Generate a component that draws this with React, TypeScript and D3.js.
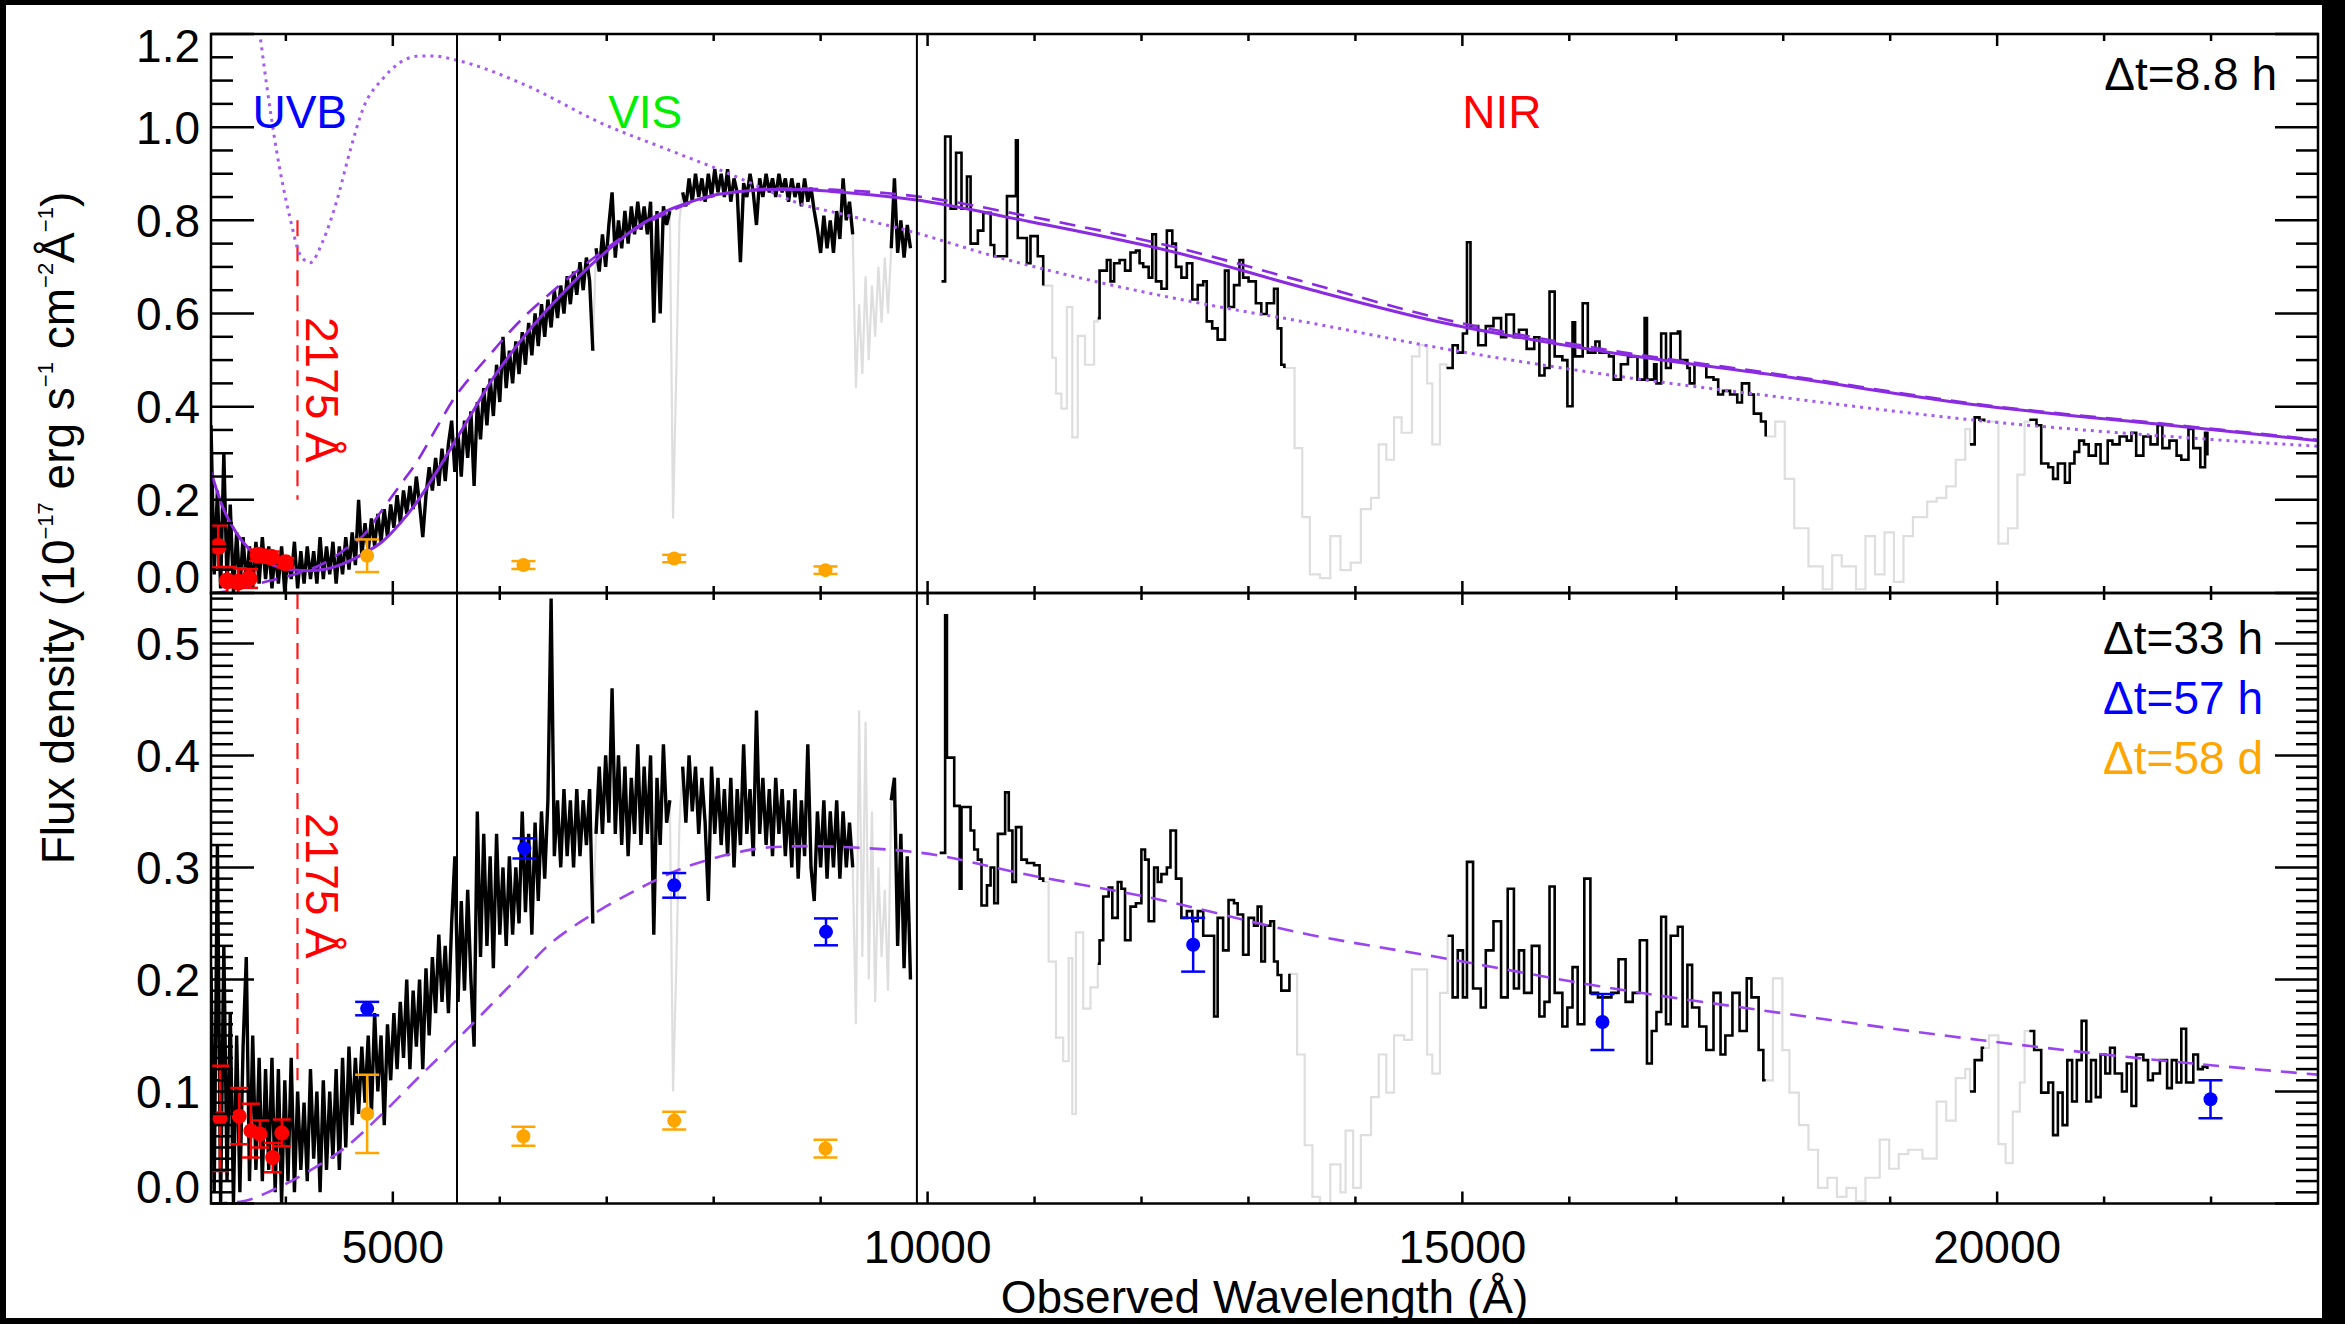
import React from "react";
import * as d3 from "d3";

// ---- frame geometry (px) ----
const WIDTH = 2345;
const HEIGHT = 1324;
const FRAME_LEFT = 211;
const FRAME_RIGHT = 2318;
const FRAME_TOP = 34;
const FRAME_MID = 593;
const FRAME_BOTTOM = 1203.5;
const FONT = "'Liberation Sans', Arial, Helvetica, sans-serif";

// ---- axes ----
const WAVE_RANGE = [3300, 23000];
const FLUX_RANGE_EARLY = [0, 1.2];
const FLUX_RANGE_LATE = [0, 0.545];
const WAVE_MAJOR_TICKS = [5000, 10000, 15000, 20000];
const WAVE_MINOR_TICKS = [4000, 6000, 7000, 8000, 9000, 11000, 12000, 13000, 14000, 16000, 17000, 18000, 19000, 21000, 22000];
const EARLY_MAJOR_TICKS = [0, 0.2, 0.4, 0.6, 0.8, 1.0, 1.2];
const EARLY_MINOR_TICKS = [0.05, 0.1, 0.15, 0.25, 0.3, 0.35, 0.45, 0.5, 0.55, 0.65, 0.7, 0.75, 0.85, 0.9, 0.95, 1.05, 1.1, 1.15];
const LATE_MAJOR_TICKS = [0, 0.1, 0.2, 0.3, 0.4, 0.5];
const LATE_MINOR_TICKS = d3.range(1, 55).filter((k) => k % 10 !== 0).map((k) => k / 100);

// X-shooter arm boundaries and the redshifted 2175 Å bump
const ARM_EDGES = [5600, 9900];
const REST_BUMP = 2175;
const REDSHIFT = 0.889;

// ---- UVB + VIS spectra on a regular grid ----
const UVBVIS_START = 3300;
const UVBVIS_STEP = 30;

// Δt = 8.8 h
const UVBVIS_EARLY = [
  0.36, 0.04, 0.22, 0.01, 0.30, 0.02, 0.19, 0.00, 0.13, 0.01,
  0.12, 0.02, 0.10, 0.01, 0.11, 0.02, 0.12, 0.03, 0.10, 0.01,
  0.09, 0.02, 0.10, 0.00, 0.08, 0.03, 0.11, 0.01, 0.09, 0.02,
  0.10, 0.03, 0.09, 0.02, 0.12, 0.03, 0.10, 0.04, 0.11, 0.02,
  0.10, 0.04, 0.12, 0.05, 0.13, 0.06, 0.20, 0.08, 0.15, 0.09,
  0.16, 0.10, 0.17, 0.11, 0.18, 0.12, 0.19, 0.14, 0.21, 0.15,
  0.22, 0.17, 0.23, 0.18, 0.25, 0.19, 0.12, 0.21, 0.27, 0.22,
  0.29, 0.23, 0.31, 0.24, 0.32, 0.37, 0.26, 0.34, 0.25, 0.37,
  0.29, 0.39, 0.23, 0.41, 0.33, 0.44, 0.36, 0.46, 0.38, 0.49,
  0.41, 0.55, 0.44, 0.52, 0.45, 0.54, 0.47, 0.56, 0.49, 0.58,
  0.51, 0.60, 0.53, 0.62, 0.55, 0.63, 0.57, 0.65, 0.59, 0.66,
  0.60, 0.68, 0.62, 0.69, 0.64, 0.71, 0.65, 0.72, 0.67, 0.52,
  0.74, 0.69, 0.77, 0.70, 0.79, 0.86, 0.72, 0.80, 0.74, 0.82,
  0.75, 0.83, 0.77, 0.84, 0.78, 0.83, 0.77, 0.84, 0.58, 0.82,
  0.60, 0.83, 0.79, 0.82, 0.16, 0.47, 0.80, 0.86, 0.83, 0.89,
  0.84, 0.90, 0.85, 0.89, 0.84, 0.90, 0.85, 0.91, 0.86, 0.90,
  0.85, 0.91, 0.84, 0.89, 0.86, 0.71, 0.88, 0.85, 0.90, 0.86,
  0.79, 0.89, 0.85, 0.90, 0.86, 0.89, 0.85, 0.90, 0.86, 0.89,
  0.84, 0.89, 0.85, 0.88, 0.83, 0.89, 0.84, 0.87, 0.82, 0.78,
  0.73, 0.81, 0.74, 0.80, 0.73, 0.82, 0.76, 0.89, 0.80, 0.84,
  0.77, 0.44, 0.62, 0.47, 0.68, 0.50, 0.66, 0.55, 0.70, 0.58,
  0.72, 0.60, 0.74, 0.89, 0.73, 0.80, 0.72, 0.79, 0.74,
];

// Δt = 33 h
const UVBVIS_LATE = [
  0.21, 0.01, 0.32, 0.00, 0.23, 0.02, 0.17, 0.00, 0.15, 0.01,
  0.14, 0.22, 0.02, 0.15, 0.03, 0.13, 0.02, 0.12, 0.03, 0.13,
  0.01, 0.12, 0.00, 0.11, 0.02, 0.13, 0.01, 0.10, 0.03, 0.09,
  0.02, 0.12, 0.04, 0.10, 0.01, 0.11, 0.03, 0.10, 0.04, 0.12,
  0.03, 0.13, 0.05, 0.14, 0.07, 0.13, 0.08, 0.14, 0.09, 0.15,
  0.08, 0.17, 0.10, 0.15, 0.07, 0.16, 0.11, 0.17, 0.12, 0.18,
  0.13, 0.20, 0.12, 0.19, 0.14, 0.20, 0.12, 0.21, 0.15, 0.22,
  0.17, 0.24, 0.18, 0.23, 0.17, 0.25, 0.31, 0.18, 0.27, 0.19,
  0.28, 0.20, 0.14, 0.35, 0.22, 0.33, 0.23, 0.31, 0.21, 0.33,
  0.24, 0.30, 0.23, 0.31, 0.24, 0.30, 0.25, 0.35, 0.26, 0.33,
  0.24, 0.34, 0.27, 0.35, 0.29, 0.36, 0.54, 0.31, 0.36, 0.30,
  0.37, 0.31, 0.36, 0.30, 0.37, 0.31, 0.36, 0.32, 0.37, 0.25,
  0.33, 0.39, 0.33, 0.40, 0.34, 0.46, 0.33, 0.40, 0.32, 0.39,
  0.31, 0.38, 0.33, 0.41, 0.32, 0.39, 0.33, 0.40, 0.24, 0.38,
  0.32, 0.41, 0.34, 0.36, 0.10, 0.21, 0.34, 0.39, 0.34, 0.40,
  0.35, 0.39, 0.33, 0.38, 0.34, 0.27, 0.39, 0.33, 0.38, 0.32,
  0.37, 0.31, 0.38, 0.30, 0.37, 0.32, 0.41, 0.33, 0.37, 0.31,
  0.44, 0.33, 0.38, 0.32, 0.37, 0.31, 0.38, 0.33, 0.37, 0.31,
  0.36, 0.30, 0.37, 0.29, 0.36, 0.31, 0.41, 0.30, 0.27, 0.35,
  0.30, 0.36, 0.29, 0.35, 0.30, 0.36, 0.29, 0.35, 0.30, 0.34,
  0.30, 0.16, 0.44, 0.22, 0.43, 0.20, 0.35, 0.18, 0.30, 0.22,
  0.28, 0.19, 0.36, 0.38, 0.23, 0.33, 0.21, 0.31, 0.20,
];

// ---- NIR binned spectra ----
const NIR_EARLY_WAVE = [
  10130, 10164, 10215, 10266, 10317, 10368, 10402, 10470, 10521, 10589, 10623, 10742, 10826, 10843, 10928, 10962, 11030,
  11081, 11115, 11166, 11200, 11251, 11302, 11353, 11404, 11472, 11557,
  11591, 11608, 11676, 11710, 11744, 11795, 11846, 11897, 11948, 11982, 12016, 12067, 12101, 12135, 12186, 12237, 12288,
  12322, 12373, 12424, 12475, 12526, 12577, 12610, 12661, 12712, 12746, 12780, 12814, 12865, 12916, 12950, 13001, 13069,
  13120, 13171, 13239, 13273, 13307,
  13336, 13431, 13503, 13574, 13669, 13765, 13860, 13956, 14051, 14146, 14218, 14289, 14361, 14432, 14528, 14599, 14671,
  14719, 14790,
  14852, 14909, 14957, 15005, 15043, 15076, 15148, 15219, 15291, 15362, 15410, 15482, 15529, 15601, 15672, 15720, 15768,
  15815, 15863, 15935, 15982, 16030, 16054, 16125, 16173, 16244, 16282, 16371, 16415, 16482, 16548, 16637, 16704, 16726,
  16793, 16815, 16859, 16904, 16948, 17015, 17037, 17104, 17126, 17170, 17237, 17281, 17348, 17392, 17437, 17503, 17570,
  17614, 17681, 17725, 17792,
  17836, 17925, 18014, 18103, 18236, 18369, 18458, 18547, 18680, 18769, 18858, 18947, 19035, 19124, 19213, 19346, 19435,
  19524, 19613, 19702,
  19746, 19790, 19835,
  19879, 19968, 20012, 20101, 20190, 20257,
  20301, 20368, 20412, 20479, 20523, 20568, 20634, 20679, 20723, 20767, 20812, 20856, 20923, 20967, 21034, 21078, 21145,
  21212, 21256, 21300, 21367, 21434, 21500, 21545, 21611, 21678, 21722, 21789, 21834, 21900, 21944, 21966,
];
const NIR_EARLY_FLUX = [
  0.669, 0.98, 0.825, 0.945, 0.825, 0.894, 0.75, 0.778, 0.816, 0.747, 0.723, 0.852, 0.972, 0.762, 0.708, 0.766, 0.723,
  0.66, 0.66, 0.505, 0.428, 0.396, 0.614, 0.334, 0.552, 0.49, 0.583,
  0.59, 0.692, 0.715, 0.669, 0.708, 0.715, 0.692, 0.731, 0.735, 0.708, 0.70, 0.677, 0.77, 0.669, 0.653, 0.778, 0.75,
  0.70, 0.677, 0.708, 0.63, 0.661, 0.669, 0.583, 0.568, 0.544, 0.544, 0.692, 0.614, 0.661, 0.715, 0.677, 0.669, 0.622,
  0.599, 0.622, 0.653, 0.568, 0.49,
  0.483, 0.311, 0.163, 0.04, 0.032, 0.122, 0.049, 0.065, 0.18, 0.204, 0.319, 0.286, 0.377, 0.344, 0.508, 0.532, 0.45,
  0.319, 0.491,
  0.483, 0.532, 0.516, 0.557, 0.753, 0.573, 0.532, 0.573, 0.59, 0.549, 0.598, 0.549, 0.565, 0.524, 0.549, 0.467, 0.483,
  0.647, 0.508, 0.50, 0.401, 0.581, 0.508, 0.622, 0.516, 0.54, 0.516, 0.508, 0.458, 0.491, 0.508, 0.458, 0.59, 0.458,
  0.491, 0.45, 0.557, 0.483, 0.557, 0.561, 0.50, 0.483, 0.45, 0.491, 0.491, 0.463, 0.458, 0.426, 0.434, 0.426, 0.409,
  0.45, 0.426, 0.385, 0.368,
  0.336, 0.368, 0.245, 0.139, 0.057, 0.008, 0.081, 0.057, 0.008, 0.122, 0.04, 0.13, 0.024, 0.122, 0.163, 0.196, 0.204,
  0.229, 0.286, 0.352,
  0.319, 0.377, 0.372,
  0.368, 0.368, 0.106, 0.139, 0.254, 0.368,
  0.372, 0.36, 0.278, 0.27, 0.245, 0.278, 0.237, 0.278, 0.303, 0.327, 0.319, 0.295, 0.319, 0.278, 0.327, 0.319, 0.336,
  0.327, 0.344, 0.295, 0.336, 0.319, 0.36, 0.311, 0.327, 0.295, 0.286, 0.352, 0.311, 0.27, 0.344, 0.295,
];

const NIR_LATE_WAVE = [
  10113, 10147, 10164, 10181, 10249, 10300, 10317, 10402, 10436, 10470, 10504, 10555, 10589, 10623, 10657, 10725, 10759,
  10793, 10826, 10877, 10928, 10996, 11047,
  11081, 11132, 11200, 11268, 11319, 11353, 11387, 11455, 11523,
  11591, 11608, 11642, 11693, 11727, 11778, 11812, 11846, 11897, 11948, 11999, 12033, 12067, 12118, 12152, 12186, 12237,
  12271, 12322, 12373, 12424, 12475, 12526, 12577, 12628, 12679, 12712, 12763, 12814, 12865, 12899, 12950, 13001, 13052,
  13086, 13120, 13154, 13205, 13239, 13273, 13307,
  13383, 13455, 13526, 13598, 13669, 13765, 13860, 13908, 13979, 14051, 14146, 14218, 14289, 14361, 14456, 14528, 14599,
  14671, 14719, 14790,
  14862, 14909, 14957, 15005, 15043, 15100, 15172, 15219, 15291, 15362, 15424, 15482, 15529, 15577, 15649, 15720, 15768,
  15815, 15863, 15935, 15982, 16030, 16078, 16140, 16197, 16268, 16349, 16393, 16460, 16526, 16593, 16659, 16726, 16771,
  16815, 16859, 16904, 16948, 17015, 17059, 17104, 17148, 17215, 17281, 17348, 17414, 17459, 17525, 17592, 17659, 17703,
  17770, 17814,
  17836, 17903, 17992, 18058, 18147, 18236, 18325, 18414, 18502, 18591, 18680, 18769, 18902, 18991, 19080, 19169, 19302,
  19435, 19524, 19613, 19702,
  19746, 19790, 19857,
  19879, 19924, 20012, 20079, 20146, 20212, 20257,
  20301, 20346, 20412, 20479, 20523, 20568, 20612, 20656, 20701, 20745, 20790, 20834, 20878, 20923, 20967, 21012, 21056,
  21100, 21167, 21212, 21256, 21300, 21367, 21411, 21456, 21522, 21589, 21633, 21678, 21722, 21767, 21834, 21878, 21922,
  21966,
];
const NIR_LATE_FLUX = [
  0.313, 0.313, 0.525, 0.398, 0.355, 0.281, 0.354, 0.333, 0.316, 0.307, 0.266, 0.284, 0.30, 0.268, 0.33, 0.367, 0.333,
  0.287, 0.336, 0.307, 0.304, 0.302, 0.29,
  0.287, 0.216, 0.148, 0.127, 0.219, 0.08, 0.242, 0.174, 0.193,
  0.214, 0.235, 0.274, 0.282, 0.255, 0.287, 0.281, 0.235, 0.265, 0.268, 0.316, 0.307, 0.252, 0.30, 0.287, 0.294, 0.30,
  0.333, 0.29, 0.255, 0.261, 0.252, 0.261, 0.239, 0.239, 0.167, 0.255, 0.226, 0.271, 0.268, 0.258, 0.222, 0.255, 0.248,
  0.265, 0.216, 0.248, 0.252, 0.216, 0.204, 0.19,
  0.205, 0.133, 0.052, 0.006, 0.0, 0.035, 0.01, 0.065, 0.014, 0.061, 0.095, 0.133, 0.099, 0.15, 0.146, 0.209, 0.209,
  0.133, 0.116, 0.188,
  0.239, 0.184, 0.226, 0.184, 0.305, 0.192, 0.175, 0.226, 0.252, 0.184, 0.281, 0.192, 0.226, 0.188, 0.23, 0.167, 0.18,
  0.283, 0.188, 0.158, 0.175, 0.211, 0.16, 0.29, 0.188, 0.184, 0.184, 0.188, 0.218, 0.18, 0.188, 0.235, 0.125, 0.154,
  0.171, 0.256, 0.16, 0.239, 0.247, 0.158, 0.213, 0.175, 0.158, 0.137, 0.188, 0.133, 0.15, 0.188, 0.154, 0.201, 0.184,
  0.137, 0.11,
  0.11, 0.201, 0.137, 0.099, 0.07, 0.048, 0.014, 0.023, 0.006, 0.014, 0.002, 0.023, 0.057, 0.031, 0.044, 0.048, 0.04,
  0.091, 0.074, 0.112, 0.12,
  0.10, 0.128, 0.139,
  0.139, 0.15, 0.053, 0.036, 0.082, 0.108, 0.154,
  0.154, 0.137, 0.099, 0.108, 0.061, 0.099, 0.07, 0.128, 0.091, 0.128, 0.163, 0.091, 0.128, 0.095, 0.133, 0.116, 0.139,
  0.116, 0.10, 0.125, 0.087, 0.133, 0.128, 0.11, 0.116, 0.128, 0.103, 0.128, 0.108, 0.156, 0.108, 0.133, 0.12, 0.122,
  0.12,
];

// Telluric absorption windows, plotted in light grey
const TELLURIC_WINDOWS = [
  [6855, 6885], [7585, 7685], [9295, 9640],
  [11075, 11580], [13320, 14845], [17830, 19740], [19875, 20295],
];

// ---- model SEDs ----
const MODEL_EARLY_WAVE = [
  3300, 3400, 3540, 3700, 3880, 4050, 4220, 4390, 4560, 4730, 4900, 5070, 5240, 5410, 5580, 5750, 5920, 6090, 6260, 6430,
  6600, 6770, 6940, 7110, 7280, 7450, 7620, 7790, 7960, 8300, 8530, 8800, 9100, 9880, 10960, 12320, 13570, 14820, 16280,
  18060, 19830, 21610, 23000,
];
const MODEL_EARLY_SOLID = [
  0.26, 0.19, 0.128, 0.085, 0.06, 0.05, 0.048, 0.052, 0.065, 0.085, 0.11, 0.15, 0.20, 0.26, 0.325, 0.39, 0.455, 0.51,
  0.56, 0.605, 0.646, 0.686, 0.722, 0.755, 0.785, 0.808, 0.826, 0.84, 0.852, 0.863, 0.866, 0.866, 0.862, 0.844, 0.797,
  0.731, 0.652, 0.58, 0.52, 0.463, 0.403, 0.36, 0.327,
];
const MODEL_EARLY_DASHED = [
  0.0, 0.002, 0.008, 0.018, 0.028, 0.038, 0.05, 0.068, 0.095, 0.125, 0.178, 0.232, 0.287, 0.355, 0.42, 0.47, 0.515, 0.56,
  0.60, 0.635, 0.668, 0.70, 0.73, 0.758, 0.782, 0.803, 0.822, 0.838, 0.85, 0.864, 0.868, 0.868, 0.866, 0.852, 0.808,
  0.742, 0.665, 0.588, 0.525, 0.466, 0.405, 0.362, 0.329,
];
const MODEL_EARLY_DOTTED_WAVE = [
  3700, 3758, 3820, 3914, 4038, 4132, 4225, 4347, 4475, 4599, 4724, 4910, 5223, 5371, 5609, 6253, 6936, 7614, 8124, 8526,
  8754, 9263, 9875, 10623, 11642, 12662, 13572, 14815, 16282, 18058, 19834, 21610, 23000,
];
const MODEL_EARLY_DOTTED = [
  1.29, 1.197, 1.091, 0.948, 0.806, 0.727, 0.709, 0.756, 0.841, 0.948, 1.041, 1.105, 1.152, 1.153, 1.143, 1.089, 1.01,
  0.948, 0.902, 0.862, 0.84, 0.81, 0.774, 0.723, 0.665, 0.617, 0.58, 0.525, 0.471, 0.418, 0.37, 0.336, 0.315,
];
const MODEL_LATE_WAVE = [
  3300, 3600, 3877, 4200, 4556, 4900, 5235, 5576, 5915, 6200, 6425, 6700, 6936, 7200, 7445, 7700, 7954, 8250, 8526, 8900,
  9263, 9943, 10962, 11982, 13572, 14768, 16282, 18058, 19834, 21610, 23000,
];
const MODEL_LATE_DASHED = [
  0.0, 0.002, 0.012, 0.028, 0.05, 0.08, 0.112, 0.144, 0.177, 0.205, 0.228, 0.248, 0.262, 0.276, 0.288, 0.299, 0.307,
  0.314, 0.318, 0.319, 0.318, 0.313, 0.293, 0.275, 0.24, 0.22, 0.194, 0.169, 0.146, 0.127, 0.115,
];

// ---- photometry ----
const UV_EARLY_WAVE = [3367, 3452, 3554, 3656, 3741, 3860, 3996];
const UV_EARLY_FLUX = [0.100, 0.026, 0.023, 0.031, 0.081, 0.077, 0.065];
const UV_EARLY_ERR = [0.045, 0.030, 0.030, 0.020, 0.012, 0.012, 0.010];
const UV_LATE_WAVE = [3384, 3564, 3673, 3758, 3877, 3962];
const UV_LATE_FLUX = [0.076, 0.078, 0.065, 0.062, 0.041, 0.063];
const UV_LATE_ERR = [0.047, 0.025, 0.024, 0.012, 0.013, 0.012];
const PHOT_57H_WAVE = [4760, 6230, 7631, 9050, 12483, 16310, 21995];
const PHOT_57H_FLUX = [0.174, 0.317, 0.284, 0.2425, 0.231, 0.162, 0.093];
const PHOT_57H_ERR = [0.006, 0.009, 0.011, 0.012, 0.024, 0.025, 0.017];
const PHOT_58D_WAVE = [4760, 6221, 7631, 9045];
const PHOT_58D_FLUX = [0.080, 0.060, 0.074, 0.049];
const PHOT_58D_ERR = [0.035, 0.0085, 0.008, 0.008];

const ARM_LABELS = [
  { text: "UVB", wave: 4130, color: "#0000ff" },
  { text: "VIS", wave: 7360, color: "#00ee00" },
  { text: "NIR", wave: 15370, color: "#ff0000" },
];

const PURPLE = "#8a2be2";

type Pt = [number, number];
type Scale = d3.ScaleLinear<number, number>;

const x = d3.scaleLinear().domain(WAVE_RANGE).range([FRAME_LEFT, FRAME_RIGHT]);
const yEarly = d3.scaleLinear().domain(FLUX_RANGE_EARLY).range([FRAME_MID, FRAME_TOP]);
const yLate = d3.scaleLinear().domain(FLUX_RANGE_LATE).range([FRAME_BOTTOM, FRAME_MID]);
const UVBVIS_WAVE = UVBVIS_EARLY.map((_, i) => UVBVIS_START + i * UVBVIS_STEP);

const inTelluric = (w: number) => TELLURIC_WINDOWS.some(([a, b]) => w >= a && w <= b);

function splitRuns(waves: number[], flux: number[]) {
  const runs: { grey: boolean; pts: Pt[] }[] = [];
  let cur: { grey: boolean; pts: Pt[] } | null = null;
  waves.forEach((w, i) => {
    const grey = inTelluric(w);
    const p: Pt = [w, flux[i]];
    if (!cur || cur.grey !== grey) {
      if (cur) cur.pts.push(p);
      cur = { grey, pts: [] };
      runs.push(cur);
    }
    cur.pts.push(p);
  });
  return runs;
}

function Spectrum({ waves, flux, y, curve, width }: { waves: number[]; flux: number[]; y: Scale; curve: d3.CurveFactory; width: number }) {
  const runs = splitRuns(waves, flux);
  const line = d3.line<Pt>().x((d) => x(d[0])).y((d) => y(d[1])).curve(curve);
  return (
    <g fill="none" strokeLinejoin="miter" strokeMiterlimit={3}>
      {runs.filter((r) => r.grey).map((r, i) => (
        <path key={"g" + i} d={line(r.pts) || ""} stroke="#dedede" strokeWidth={Math.min(width, 2.2)} />
      ))}
      {runs.filter((r) => !r.grey).map((r, i) => (
        <path key={"b" + i} d={line(r.pts) || ""} stroke="#000" strokeWidth={width} />
      ))}
    </g>
  );
}

function Model({ waves, flux, y, dash, width, color }: { waves: number[]; flux: number[]; y: Scale; dash?: string; width: number; color: string }) {
  const line = d3.line<number>().x((_, i) => x(waves[i])).y((d) => y(d)).curve(d3.curveMonotoneX);
  return <path d={line(flux) || ""} fill="none" stroke={color} strokeWidth={width} strokeDasharray={dash} />;
}

function Points({ waves, flux, err, y, color, r, cap }: { waves: number[]; flux: number[]; err: number[]; y: Scale; color: string; r: number; cap: number }) {
  return (
    <g stroke={color} strokeWidth={2.5} fill={color}>
      {waves.map((w, i) => {
        const cx = x(w);
        const y1 = y(flux[i] + err[i]);
        const y2 = y(flux[i] - err[i]);
        return (
          <g key={i}>
            <line x1={cx} x2={cx} y1={y1} y2={y2} />
            <line x1={cx - cap} x2={cx + cap} y1={y1} y2={y1} />
            <line x1={cx - cap} x2={cx + cap} y1={y2} y2={y2} />
            <circle cx={cx} cy={y(flux[i])} r={r} stroke="none" />
          </g>
        );
      })}
    </g>
  );
}

function FluxAxis({ y, majors, minors, top, bottom }: { y: Scale; majors: number[]; minors: number[]; top: number; bottom: number }) {
  const fmt = d3.format(".1f");
  return (
    <g stroke="#000" strokeWidth={2.5}>
      {minors.map((v) => (
        <g key={"m" + v}>
          <line x1={FRAME_LEFT} x2={FRAME_LEFT + 22} y1={y(v)} y2={y(v)} />
          <line x1={FRAME_RIGHT} x2={FRAME_RIGHT - 22} y1={y(v)} y2={y(v)} />
        </g>
      ))}
      {majors.map((v) => {
        const ly = Math.min(bottom - 17, Math.max(top + 11, y(v)));
        return (
          <g key={"M" + v}>
            <line x1={FRAME_LEFT} x2={FRAME_LEFT + 43} y1={y(v)} y2={y(v)} />
            <line x1={FRAME_RIGHT} x2={FRAME_RIGHT - 43} y1={y(v)} y2={y(v)} />
            <text x={200} y={ly} dy="0.36em" textAnchor="end" stroke="none" fill="#000" fontSize={46}>
              {fmt(v)}
            </text>
          </g>
        );
      })}
    </g>
  );
}

function WaveTicks() {
  const rows: { y: number; dir: number }[] = [
    { y: FRAME_TOP, dir: 1 },
    { y: FRAME_MID, dir: -1 },
    { y: FRAME_MID, dir: 1 },
    { y: FRAME_BOTTOM, dir: -1 },
  ];
  return (
    <g stroke="#000" strokeWidth={2.5}>
      {rows.map((row, k) => (
        <g key={k}>
          {WAVE_MINOR_TICKS.map((w) => (
            <line key={"m" + w} x1={x(w)} x2={x(w)} y1={row.y} y2={row.y + row.dir * 7} />
          ))}
          {WAVE_MAJOR_TICKS.map((w) => (
            <line key={"M" + w} x1={x(w)} x2={x(w)} y1={row.y} y2={row.y + row.dir * 12} />
          ))}
        </g>
      ))}
    </g>
  );
}

export default function App() {
  const bump = REST_BUMP * (1 + REDSHIFT);
  const bumpX = x(bump);
  return (
    <svg
      width={WIDTH}
      height={HEIGHT}
      viewBox={`0 0 ${WIDTH} ${HEIGHT}`}
      style={{ position: "absolute", left: 0, top: 0, background: "#fff" }}
      fontFamily={FONT}
    >
      <defs>
        <clipPath id="clip-early">
          <rect x={FRAME_LEFT} y={FRAME_TOP} width={FRAME_RIGHT - FRAME_LEFT} height={FRAME_MID - FRAME_TOP} />
        </clipPath>
        <clipPath id="clip-late">
          <rect x={FRAME_LEFT} y={FRAME_MID} width={FRAME_RIGHT - FRAME_LEFT} height={FRAME_BOTTOM - FRAME_MID} />
        </clipPath>
      </defs>
      <rect x={0} y={0} width={WIDTH} height={HEIGHT} fill="#fff" />

      {/* early epoch (8.8 h) */}
      <g clipPath="url(#clip-early)">
        <Spectrum waves={UVBVIS_WAVE} flux={UVBVIS_EARLY} y={yEarly} curve={d3.curveLinear} width={3.4} />
        <Spectrum waves={NIR_EARLY_WAVE} flux={NIR_EARLY_FLUX} y={yEarly} curve={d3.curveStepAfter} width={2.6} />
        <line x1={bumpX} x2={bumpX} y1={yEarly(0.8)} y2={yEarly(0.2)} stroke="#ff1a1a" strokeWidth={2.2} strokeDasharray="16,9" />
        <Model waves={MODEL_EARLY_DOTTED_WAVE} flux={MODEL_EARLY_DOTTED} y={yEarly} dash="3,5" width={3} color="#a45cf0" />
        <Model waves={MODEL_EARLY_WAVE} flux={MODEL_EARLY_DASHED} y={yEarly} dash="16,10" width={2.6} color={PURPLE} />
        <Model waves={MODEL_EARLY_WAVE} flux={MODEL_EARLY_SOLID} y={yEarly} width={3} color={PURPLE} />
        <Points waves={PHOT_58D_WAVE} flux={PHOT_58D_FLUX} err={PHOT_58D_ERR} y={yEarly} color="#ffa500" r={7} cap={12} />
        <Points waves={UV_EARLY_WAVE} flux={UV_EARLY_FLUX} err={UV_EARLY_ERR} y={yEarly} color="#ff0000" r={8.5} cap={9} />
      </g>

      {/* late epochs (33 h, 57 h, 58 d) */}
      <g clipPath="url(#clip-late)">
        <Spectrum waves={UVBVIS_WAVE} flux={UVBVIS_LATE} y={yLate} curve={d3.curveLinear} width={3.4} />
        <Spectrum waves={NIR_LATE_WAVE} flux={NIR_LATE_FLUX} y={yLate} curve={d3.curveStepAfter} width={2.6} />
        <line x1={bumpX} x2={bumpX} y1={FRAME_MID} y2={yLate(0.11)} stroke="#ff1a1a" strokeWidth={2.2} strokeDasharray="16,9" />
        <Model waves={MODEL_LATE_WAVE} flux={MODEL_LATE_DASHED} y={yLate} dash="16,10" width={2.6} color="#9b45f0" />
        <Points waves={PHOT_58D_WAVE} flux={PHOT_58D_FLUX} err={PHOT_58D_ERR} y={yLate} color="#ffa500" r={7} cap={12} />
        <Points waves={PHOT_57H_WAVE} flux={PHOT_57H_FLUX} err={PHOT_57H_ERR} y={yLate} color="#0000ff" r={7} cap={12} />
        <Points waves={UV_LATE_WAVE} flux={UV_LATE_FLUX} err={UV_LATE_ERR} y={yLate} color="#ff0000" r={7.5} cap={9} />
      </g>

      {/* arm boundaries */}
      {ARM_EDGES.map((w) => (
        <line key={w} x1={x(w)} x2={x(w)} y1={FRAME_TOP} y2={FRAME_BOTTOM} stroke="#000" strokeWidth={2} />
      ))}

      {/* frames and ticks */}
      <rect x={FRAME_LEFT} y={FRAME_TOP} width={FRAME_RIGHT - FRAME_LEFT} height={FRAME_MID - FRAME_TOP} fill="none" stroke="#000" strokeWidth={2.5} />
      <rect x={FRAME_LEFT} y={FRAME_MID} width={FRAME_RIGHT - FRAME_LEFT} height={FRAME_BOTTOM - FRAME_MID} fill="none" stroke="#000" strokeWidth={2.5} />
      <FluxAxis y={yEarly} majors={EARLY_MAJOR_TICKS} minors={EARLY_MINOR_TICKS} top={FRAME_TOP} bottom={FRAME_MID} />
      <FluxAxis y={yLate} majors={LATE_MAJOR_TICKS} minors={LATE_MINOR_TICKS} top={FRAME_MID} bottom={FRAME_BOTTOM} />
      <WaveTicks />

      {WAVE_MAJOR_TICKS.map((w) => (
        <text key={w} x={x(w)} y={1263} textAnchor="middle" fontSize={46}>
          {w}
        </text>
      ))}
      <text x={(FRAME_LEFT + FRAME_RIGHT) / 2} y={1313} textAnchor="middle" fontSize={46}>
        Observed Wavelength (Å)
      </text>

      <text transform="translate(74,528) rotate(-90)" textAnchor="middle" fontSize={46}>
        Flux density (10<tspan dy={-21} fontSize={22}>−17</tspan>
        <tspan dy={21}> erg s</tspan>
        <tspan dy={-21} fontSize={22}>−1</tspan>
        <tspan dy={21}> cm</tspan>
        <tspan dy={-21} fontSize={22}>−2</tspan>
        <tspan dy={21}>Å</tspan>
        <tspan dy={-21} fontSize={22}>−1</tspan>
        <tspan dy={21}>)</tspan>
      </text>

      {/* arm names */}
      {ARM_LABELS.map((a) => (
        <text key={a.text} x={x(a.wave)} y={128} fontSize={46} fill={a.color} textAnchor="middle">
          {a.text}
        </text>
      ))}

      {/* 2175 Å bump labels */}
      <text transform={`translate(${bumpX + 9},317) rotate(90)`} fontSize={46} fill="#ff0000">
        2175 Å
      </text>
      <text transform={`translate(${bumpX + 9},813) rotate(90)`} fontSize={46} fill="#ff0000">
        2175 Å
      </text>

      {/* epoch labels */}
      <text x={2277} y={90} textAnchor="end" fontSize={46} fill="#000">Δt=8.8 h</text>
      <text x={2263} y={654} textAnchor="end" fontSize={46} fill="#000">Δt=33 h</text>
      <text x={2263} y={714} textAnchor="end" fontSize={46} fill="#0000ff">Δt=57 h</text>
      <text x={2263} y={774} textAnchor="end" fontSize={46} fill="#ffa500">Δt=58 d</text>

      {/* dark surround */}
      <rect x={0} y={0} width={WIDTH} height={5} fill="#000" />
      <rect x={0} y={0} width={6} height={HEIGHT} fill="#000" />
      <rect x={2322} y={0} width={WIDTH - 2322} height={HEIGHT} fill="#000" />
      <rect x={0} y={1318} width={WIDTH} height={HEIGHT - 1318} fill="#000" />
    </svg>
  );
}
